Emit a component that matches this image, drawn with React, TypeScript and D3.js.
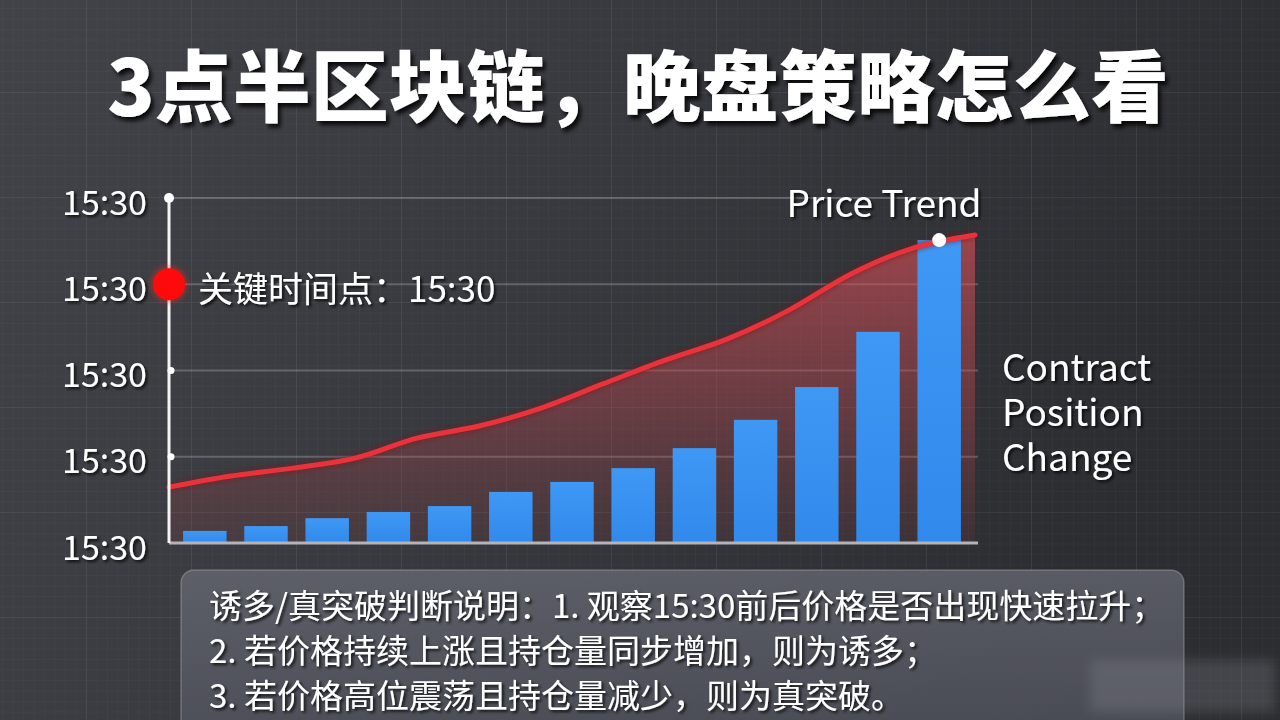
import React from "react";
import * as d3 from "d3";

const W = 1280;
const H = 720;

const titleText = "3点半区块链，晚盘策略怎么看";
const yTickValues = [0, 25, 50, 75, 100];
const yTickLabels = ["15:30", "15:30", "15:30", "15:30", "15:30"];
const barCategories = ["b1", "b2", "b3", "b4", "b5", "b6", "b7", "b8", "b9", "b10", "b11", "b12", "b13"];
const positionValues = [3.5, 4.9, 7.2, 9.0, 10.7, 14.8, 17.7, 21.7, 27.5, 35.7, 45.2, 61.2, 87.8];
const priceSlots = ["p0", "p1", "p2", "p3", "p4", "p5", "p6", "p7", "p8", "p9", "p10", "p11", "p12", "p13"];
const priceValues = [16.2, 19.4, 21.7, 24.6, 30.4, 33.9, 39.1, 46.1, 53.0, 59.1, 67.5, 78.0, 85.5, 89.3];
const keyTickIndex = 3; // tick marked as key time point
const keyLabel = "关键时间点：15:30";
const priceLabel = "Price Trend";
const positionLabelLines = ["Contract", "Position", "Change"];
const noteLines = [
  "诱多/真突破判断说明：1. 观察15:30前后价格是否出现快速拉升；",
  "2. 若价格持续上涨且持仓量同步增加，则为诱多；",
  "3. 若价格高位震荡且持仓量减少，则为真突破。",
];

const FONT = '"Noto Sans CJK SC", "Noto Sans", sans-serif';

export default function App() {
  const plotLeft = 169;
  const plotRight = 975;
  const plotTop = 198;
  const plotBottom = 543;

  const y = d3.scaleLinear().domain([0, 100]).range([plotBottom, plotTop]);
  const xBar = d3
    .scaleBand<string>()
    .domain(barCategories)
    .range([plotLeft, plotRight])
    .paddingInner(0.29)
    .paddingOuter(0.23);
  const xPrice = d3.scalePoint<string>().domain(priceSlots).range([plotLeft, plotRight]);

  const linePts: [number, number][] = priceSlots.map((s, i) => [xPrice(s)!, y(priceValues[i])]);
  const line = d3.line().curve(d3.curveMonotoneX)(linePts) || "";
  const area =
    d3
      .area()
      .curve(d3.curveMonotoneX)
      .y0(y(0))
      .y1((d) => d[1])(linePts) || "";

  const lastIdx = barCategories.length - 1;
  const dotX = xBar(barCategories[lastIdx])! + xBar.bandwidth() / 2;
  const dotY = y(positionValues[lastIdx]);

  return (
    <svg
      width={W}
      height={H}
      viewBox={`0 0 ${W} ${H}`}
      style={{ position: "fixed", left: 0, top: 0, display: "block" }}
      fontFamily={FONT}
    >
      <defs>
        <linearGradient id="bg" x1="0" y1="0" x2="1" y2="0.3">
          <stop offset="0" stopColor="#424348" />
          <stop offset="0.5" stopColor="#38393e" />
          <stop offset="1" stopColor="#2c2d31" />
        </linearGradient>
        <pattern id="minor" width="10.5" height="10.5" patternUnits="userSpaceOnUse" x="-19" y="-13">
          <path d="M10.5 0 L0 0 0 10.5" fill="none" stroke="rgba(255,255,255,0.04)" strokeWidth="1" />
        </pattern>
        <pattern id="major" width="105" height="105" patternUnits="userSpaceOnUse" x="-19" y="-13">
          <path d="M105 0 L0 0 0 105" fill="none" stroke="rgba(255,255,255,0.08)" strokeWidth="1.2" />
        </pattern>
        <linearGradient id="areaGrad" gradientUnits="userSpaceOnUse" x1="0" y1={plotTop + 30} x2="0" y2={plotBottom}>
          <stop offset="0" stopColor="#e0505a" stopOpacity="0.62" />
          <stop offset="0.55" stopColor="#c04850" stopOpacity="0.38" />
          <stop offset="1" stopColor="#a04048" stopOpacity="0.12" />
        </linearGradient>
        <linearGradient id="barGrad" x1="0" y1="0" x2="0" y2="1">
          <stop offset="0" stopColor="#3f98f4" />
          <stop offset="1" stopColor="#3189ec" />
        </linearGradient>
        <linearGradient id="boxGrad" x1="0" y1="0" x2="0.2" y2="1">
          <stop offset="0" stopColor="#60626c" />
          <stop offset="1" stopColor="#4c4e58" />
        </linearGradient>
        <filter id="txtShadow" x="-10%" y="-30%" width="120%" height="160%">
          <feDropShadow dx="2" dy="2" stdDeviation="1.5" floodColor="#000" floodOpacity="0.8" />
        </filter>
        <filter id="titleShadow" x="-5%" y="-30%" width="110%" height="160%">
          <feDropShadow dx="3" dy="4" stdDeviation="2" floodColor="#000" floodOpacity="0.85" />
        </filter>
        <filter id="glow" x="-50%" y="-50%" width="200%" height="200%">
          <feGaussianBlur stdDeviation="2" />
        </filter>
        <filter id="blurWm" x="-20%" y="-50%" width="140%" height="200%">
          <feGaussianBlur stdDeviation="6" />
        </filter>
      </defs>

      {/* background */}
      <rect width={W} height={H} fill="url(#bg)" />
      <rect width={W} height={H} fill="url(#minor)" />
      <rect width={W} height={H} fill="url(#major)" />

      {/* title */}
      <text
        x={638}
        y={116}
        textAnchor="middle"
        fontSize={78}
        fontWeight={900}
        fill="#ffffff"
        filter="url(#titleShadow)"
      >
        {titleText}
      </text>

      {/* horizontal gridlines */}
      {yTickValues.slice(1).map((v, i) => (
        <line
          key={"g" + i}
          x1={plotLeft}
          x2={plotRight + 3}
          y1={y(v)}
          y2={y(v)}
          stroke="rgba(220,220,225,0.26)"
          strokeWidth={2}
        />
      ))}

      {/* area under price */}
      <path d={area} fill="url(#areaGrad)" />

      {/* bars */}
      {barCategories.map((c, i) => (
        <rect
          key={c}
          x={xBar(c)}
          y={y(positionValues[i])}
          width={xBar.bandwidth()}
          height={y(0) - y(positionValues[i])}
          fill="url(#barGrad)"
        />
      ))}

      {/* price line */}
      <path d={line} fill="none" stroke="#7a1418" strokeWidth={7} opacity={0.6} filter="url(#glow)" />
      <path d={line} fill="none" stroke="#e8323c" strokeWidth={5} strokeLinejoin="round" strokeLinecap="round" />
      <circle cx={dotX} cy={dotY} r={7} fill="#ffffff" />

      {/* axes */}
      <line x1={plotLeft} x2={plotRight + 3} y1={plotBottom} y2={plotBottom} stroke="#b4b4b8" strokeWidth={3} />
      <line x1={plotLeft} x2={plotLeft} y1={plotTop} y2={plotBottom} stroke="#f4f4f4" strokeWidth={3} />
      <circle cx={plotLeft} cy={y(100)} r={5} fill="#ffffff" />
      {[1, 2].map((k) => (
        <circle key={"tk" + k} cx={plotLeft + 2} cy={y(yTickValues[k])} r={3.5} fill="#ffffff" />
      ))}

      {/* y tick labels */}
      {yTickValues.map((v, i) => (
        <text
          key={"yl" + i}
          x={147}
          y={y(v) + 2}
          textAnchor="end"
          dominantBaseline="central"
          fontSize={34}
          fill="#ffffff"
          filter="url(#txtShadow)"
        >
          {yTickLabels[i]}
        </text>
      ))}

      {/* key time point */}
      <circle cx={plotLeft} cy={y(yTickValues[keyTickIndex])} r={19} fill="#ff2020" opacity={0.35} filter="url(#glow)" />
      <circle cx={plotLeft} cy={y(yTickValues[keyTickIndex])} r={16} fill="#ff0a0a" />
      <text
        x={198}
        y={y(yTickValues[keyTickIndex]) + 2}
        dominantBaseline="central"
        fontSize={35}
        fill="#ffffff"
        filter="url(#txtShadow)"
      >
        {keyLabel}
      </text>

      {/* series labels */}
      <text x={884} y={217} textAnchor="middle" fontSize={37} fill="#ffffff" filter="url(#txtShadow)">
        {priceLabel}
      </text>
      {positionLabelLines.map((t, i) => (
        <text key={t} x={1002} y={381 + i * 45} fontSize={37} fill="#ffffff" filter="url(#txtShadow)">
          {t}
        </text>
      ))}

      {/* note box */}
      <rect
        x={181}
        y={570}
        width={1003}
        height={175}
        rx={13}
        fill="url(#boxGrad)"
        fillOpacity={0.92}
        stroke="rgba(255,255,255,0.22)"
        strokeWidth={1.5}
      />
      {noteLines.map((t, i) => (
        <text key={"n" + i} x={209} y={618 + i * 45} fontSize={33} fill="#ffffff" filter="url(#txtShadow)">
          {t}
        </text>
      ))}

      {/* faint blurred watermark patch */}
      <rect x={1090} y={660} width={185} height={52} fill="#9a9ca4" opacity={0.22} filter="url(#blurWm)" />
    </svg>
  );
}
